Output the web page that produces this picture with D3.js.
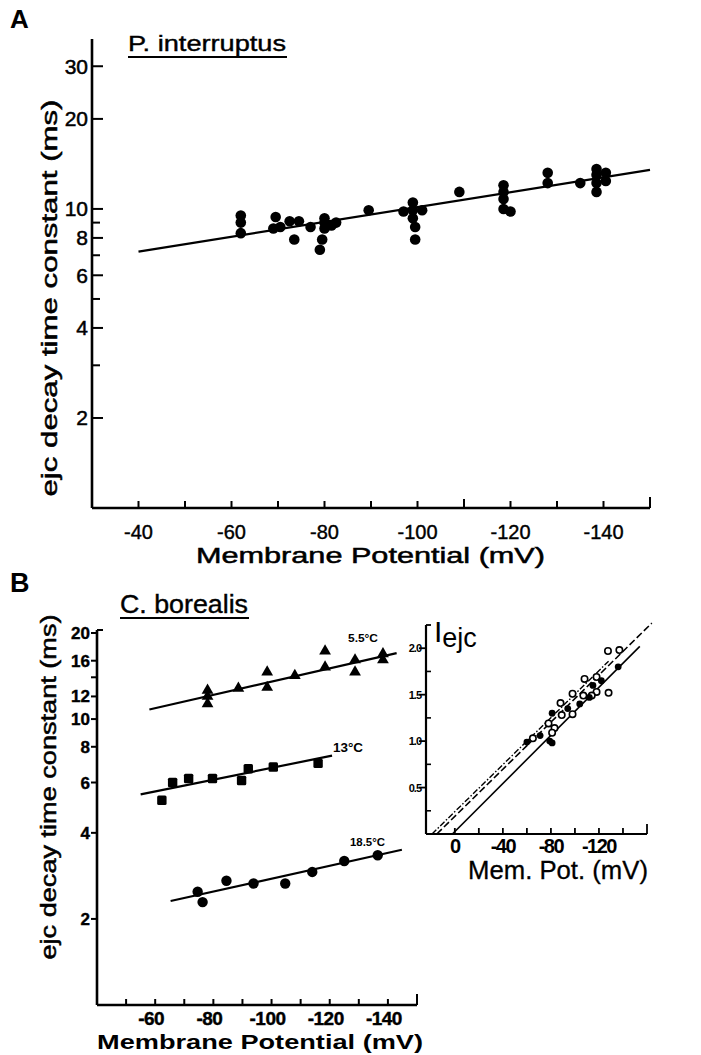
<!DOCTYPE html>
<html><head><meta charset="utf-8">
<script src="https://cdn.jsdelivr.net/npm/d3@7"></script>
<style>
html,body{margin:0;padding:0;background:#fff;}
svg{display:block;}
text{font-family:"Liberation Sans",Arial,Helvetica,sans-serif;fill:#000;}
</style></head>
<body>
<svg id="c" width="701" height="1055"></svg>
<script>
// ---------- DATA ----------
// Panel A : P. interruptus
const aVoltage = [-62,-62,-62,-69,-69.5,-70.5,-72.5,-74.5,-73.5,-77,-80,-80,-80,-79.5,-79,-81.5,-82.5,-89.5,
  -97,-99,-99,-101,-99,-99.5,-99.5,-109,-118.5,-118.5,-118.5,-118.5,-120,-128,-128,-135,-138.5,-138.5,-138.5,-138.5,-140.5,-140.5];
const aTau = [9.5,9.0,8.3,8.6,9.4,8.7,9.1,9.1,7.9,8.7,9.3,9.0,8.6,7.9,7.3,8.8,9.0,9.9,
  9.8,10.5,9.9,9.9,9.3,8.7,7.9,11.4,12.0,11.4,10.8,10.0,9.8,13.2,12.2,12.2,13.6,13.0,12.2,11.4,13.2,12.4];
const aFitVoltage = [-40,-150];
const aFitTau = [7.2,13.5];
const aYTickLabels = [2,4,6,8,10,20,30];
const aYMinorTicks = [3,5,7,9];
const aXTicks = [-40,-50,-60,-70,-80,-90,-100,-110,-120,-130,-140,-150];
const aXTickLabels = [-40,-60,-80,-100,-120,-140];

// Panel B : C. borealis
const b55Voltage = [-78,-78,-78,-88.6,-98.5,-98.5,-108,-118.4,-118.4,-128.7,-128.7,-138.3,-138.3];
const b55Tau = [12.6,12.0,11.3,12.8,14.6,12.9,14.2,17.3,15.2,16.1,14.6,16.9,16.1];
const b55FitVoltage = [-58,-143];
const b55FitTau = [10.8,17.0];
const b13Voltage = [-62.3,-66,-71.5,-79.7,-89.7,-92,-100.6,-116];
const b13Tau = [5.2,6.0,6.2,6.2,6.1,6.7,6.8,7.0];
const b13FitVoltage = [-55,-120.8];
const b13FitTau = [5.45,7.45];
const b185Voltage = [-74.6,-76.3,-84.5,-93.8,-104.7,-114,-125,-136.5];
const b185Tau = [2.49,2.29,2.72,2.66,2.66,2.92,3.19,3.34];
const b185FitVoltage = [-65.3,-144.8];
const b185FitTau = [2.31,3.49];
const bTempLabels = ["5.5°C","13°C","18.5°C"];
const bYTickLabels = [2,4,6,8,10,12,16,20];
const bYMinorTicks = [14];
const bXTicks = [-50,-60,-70,-80,-90,-100,-110,-120,-130,-140,-150];
const bXTickLabels = [-60,-80,-100,-120,-140];

// Inset : I_ejc vs membrane potential
const insOpenVoltage = [-127.5,-137,-108,-118,-98,-107,-118,-128,-88,-89,-98,-78,-83,-65,-81,-114];
const insOpenI = [1.97,1.98,1.67,1.69,1.51,1.49,1.53,1.52,1.41,1.28,1.29,1.19,1.14,1.03,1.09,1.49];
const insFilledVoltage = [-81,-60,-71,-79,-81,-104,-94,-112,-122,-115,-136];
const insFilledI = [1.30,0.99,1.06,1.00,0.98,1.40,1.35,1.47,1.65,1.60,1.80];
const insSolidVoltage = [2,-154];
const insSolidI = [0,2.02];
const insDashVoltage = [15,-164];
const insDashI = [0,2.27];
const insDashDotVoltage = [19,-128];
const insDashDotI = [0,1.86];
const insYTickLabels = [0.5,1.0,1.5,2.0];
const insYMinorTicks = [0.25,0.75,1.25,1.75];
const insXTicks = [0,-20,-40,-60,-80,-100,-120,-140,-160];
const insXTickLabels = [0,-40,-80,-120];

// ---------- DRAW ----------
const svg = d3.select("#c");
svg.append("rect").attr("width",701).attr("height",1055).attr("fill","#fff");
const zip = (a,b)=>a.map((v,i)=>[v,b[i]]);

function txt(g,x,y,s,o={}){
  const t=g.append("text").attr("x",x).attr("y",y).text(s)
    .attr("font-size",o.size||20).attr("font-weight",o.weight||"normal")
    .attr("text-anchor",o.anchor||"start");
  if(o.len) t.attr("textLength",o.len).attr("lengthAdjust","spacingAndGlyphs");
  if(o.stroke) t.attr("stroke","#000").attr("stroke-width",o.stroke);
  return t;
}

// ===== Panel A =====
const xA = d3.scaleLinear().domain([-30,-150]).range([92,650]);
const yA = d3.scaleLog().domain([1,37]).range([508,39]);
const gA = svg.append("g");
gA.append("line").attr("x1",92).attr("x2",92).attr("y1",yA(37)).attr("y2",yA(1)).attr("stroke","#000").attr("stroke-width",2.6);
gA.append("line").attr("x1",xA(-30)).attr("x2",xA(-150)).attr("y1",yA(1)).attr("y2",yA(1)).attr("stroke","#000").attr("stroke-width",2.6);
gA.selectAll(".yt").data(aYTickLabels.concat(aYMinorTicks)).join("line")
  .attr("x1",92).attr("x2",d=>aYTickLabels.includes(d)?103:100).attr("y1",d=>yA(d)).attr("y2",d=>yA(d))
  .attr("stroke","#000").attr("stroke-width",2);
gA.selectAll(".ytl").data(aYTickLabels).join("text")
  .attr("x",88).attr("y",d=>yA(d)+7.5).attr("text-anchor","end").attr("font-size",21)
  .attr("stroke","#000").attr("stroke-width",0.5).text(d=>d);
gA.selectAll(".xt").data(aXTicks).join("line")
  .attr("x1",d=>xA(d)).attr("x2",d=>xA(d)).attr("y1",yA(1)).attr("y2",d=>yA(1)-(d===-150?11:(d===-110?9:7)))
  .attr("stroke","#000").attr("stroke-width",2);
gA.selectAll(".xtl").data(aXTickLabels).join("text")
  .attr("x",d=>xA(d)).attr("y",539).attr("text-anchor","middle").attr("font-size",20)
  .attr("stroke","#000").attr("stroke-width",0.4).text(d=>"-"+Math.abs(d));
const lineA = d3.line().x(d=>xA(d[0])).y(d=>yA(d[1]));
gA.append("path").attr("d",lineA(zip(aFitVoltage,aFitTau))).attr("fill","none").attr("stroke","#000").attr("stroke-width",2.2);
gA.selectAll(".pt").data(zip(aVoltage,aTau)).join("circle")
  .attr("cx",d=>xA(d[0])).attr("cy",d=>yA(d[1])).attr("r",5.3).attr("fill","#000");
txt(gA,10,28,"A",{size:26,weight:"bold"});
txt(gA,128,51,"P. interruptus",{size:22,len:158,stroke:0.4});
gA.append("line").attr("x1",128).attr("x2",287).attr("y1",57).attr("y2",57).attr("stroke","#000").attr("stroke-width",2);
txt(gA,196,563,"Membrane Potential (mV)",{size:22,len:349,stroke:0.5});
gA.append("text").attr("transform","translate(57,298) rotate(-90)").attr("text-anchor","middle")
  .attr("font-size",22).attr("textLength",397).attr("lengthAdjust","spacingAndGlyphs")
  .attr("stroke","#000").attr("stroke-width",0.5).text("ejc decay time constant (ms)");

// ===== Panel B =====
const xB = d3.scaleLinear().domain([-40,-150]).range([97,417]);
const yB = d3.scaleLog().domain([1,20]).range([1005,633]);
const gB = svg.append("g");
gB.append("line").attr("x1",97).attr("x2",97).attr("y1",630).attr("y2",1005).attr("stroke","#000").attr("stroke-width",2.6);
gB.append("line").attr("x1",97).attr("x2",103).attr("y1",630).attr("y2",630).attr("stroke","#000").attr("stroke-width",2);
gB.append("line").attr("x1",xB(-40)).attr("x2",xB(-150)).attr("y1",1005).attr("y2",1005).attr("stroke","#000").attr("stroke-width",2.6);
gB.selectAll(".yt").data(bYTickLabels.concat(bYMinorTicks)).join("line")
  .attr("x1",91).attr("x2",97).attr("y1",d=>yB(d)).attr("y2",d=>yB(d)).attr("stroke","#000").attr("stroke-width",2);
gB.selectAll(".ytl").data(bYTickLabels).join("text")
  .attr("x",90).attr("y",d=>yB(d)+6).attr("text-anchor","end").attr("font-size",17).attr("font-weight","bold")
  .attr("stroke","#000").attr("stroke-width",0.4).text(d=>d);
gB.selectAll(".xt").data(bXTicks).join("line")
  .attr("x1",d=>xB(d)).attr("x2",d=>xB(d)).attr("y1",1005).attr("y2",d=>d===-150?994:999)
  .attr("stroke","#000").attr("stroke-width",2);
gB.selectAll(".xtl").data(bXTickLabels).join("text")
  .attr("x",d=>xB(d)-4).attr("y",1025).attr("text-anchor","middle").attr("font-size",19).attr("font-weight","bold")
  .attr("stroke","#000").attr("stroke-width",0.4).attr("letter-spacing",-0.5).text(d=>"-"+Math.abs(d));
const lineB = d3.line().x(d=>xB(d[0])).y(d=>yB(d[1]));
[[b55FitVoltage,b55FitTau],[b13FitVoltage,b13FitTau],[b185FitVoltage,b185FitTau]].forEach(f=>{
  gB.append("path").attr("d",lineB(zip(f[0],f[1]))).attr("fill","none").attr("stroke","#000").attr("stroke-width",2.2);
});
const tri = d3.symbol().type(d3.symbolTriangle).size(60);
gB.selectAll(".tri").data(zip(b55Voltage,b55Tau)).join("path")
  .attr("d",tri).attr("transform",d=>`translate(${xB(d[0])},${yB(d[1])})`).attr("fill","#000");
gB.selectAll(".sq").data(zip(b13Voltage,b13Tau)).join("rect")
  .attr("x",d=>xB(d[0])-4.7).attr("y",d=>yB(d[1])-4.7).attr("width",9.4).attr("height",9.4).attr("rx",1.5).attr("fill","#000");
gB.selectAll(".ci").data(zip(b185Voltage,b185Tau)).join("circle")
  .attr("cx",d=>xB(d[0])).attr("cy",d=>yB(d[1])).attr("r",5.2).attr("fill","#000");
txt(gB,348,642,bTempLabels[0],{size:11,weight:"bold",len:30});
txt(gB,333,752,bTempLabels[1],{size:13,weight:"bold",len:30});
txt(gB,350,846,bTempLabels[2],{size:11,weight:"bold",len:35});
txt(gB,10,592,"B",{size:27,weight:"bold"});
txt(gB,120,613,"C. borealis",{size:26,len:128,stroke:0.4});
gB.append("line").attr("x1",120).attr("x2",249).attr("y1",618).attr("y2",618).attr("stroke","#000").attr("stroke-width",2);
txt(gB,97,1049,"Membrane Potential (mV)",{size:21,weight:"bold",len:326});
gB.append("text").attr("transform","translate(56,787) rotate(-90)").attr("text-anchor","middle")
  .attr("font-size",22).attr("textLength",345).attr("lengthAdjust","spacingAndGlyphs")
  .attr("stroke","#000").attr("stroke-width",0.5).text("ejc decay  time constant (ms)");

// ===== Inset =====
const xI = d3.scaleLinear().domain([24,-160]).range([426,647]);
const yI = d3.scaleLinear().domain([0,2.25]).range([834,625]);
const gI = svg.append("g");
gI.append("line").attr("x1",426).attr("x2",426).attr("y1",yI(2.25)).attr("y2",yI(0)).attr("stroke","#000").attr("stroke-width",2.2);
gI.append("line").attr("x1",426).attr("x2",431).attr("y1",yI(2.25)).attr("y2",yI(2.25)).attr("stroke","#000").attr("stroke-width",1.8);
gI.append("line").attr("x1",xI(24)).attr("x2",xI(-160)).attr("y1",yI(0)).attr("y2",yI(0)).attr("stroke","#000").attr("stroke-width",2.2);
gI.selectAll(".yt").data(insYTickLabels).join("line")
  .attr("x1",419).attr("x2",426).attr("y1",d=>yI(d)).attr("y2",d=>yI(d)).attr("stroke","#000").attr("stroke-width",1.8);
gI.selectAll(".ym").data(insYMinorTicks).join("line")
  .attr("x1",426).attr("x2",431).attr("y1",d=>yI(d)).attr("y2",d=>yI(d)).attr("stroke","#000").attr("stroke-width",1.6);
gI.selectAll(".ytl").data(insYTickLabels).join("text")
  .attr("x",421).attr("y",d=>yI(d)+4).attr("text-anchor","end").attr("font-size",11).attr("font-weight","bold")
  .attr("letter-spacing",-1).text(d=>d.toFixed(1));
gI.selectAll(".xt").data(insXTicks).join("line")
  .attr("x1",d=>xI(d)).attr("x2",d=>xI(d)).attr("y1",yI(0)).attr("y2",d=>d===-160?yI(0)-10:yI(0)-6)
  .attr("stroke","#000").attr("stroke-width",1.8);
gI.selectAll(".xtl").data(insXTickLabels).join("text")
  .attr("x",d=>xI(d)).attr("y",853).attr("text-anchor","middle").attr("font-size",20).attr("font-weight","bold")
  .attr("letter-spacing",-1.5).text(d=>d===0?"0":"-"+Math.abs(d));
const lineI = d3.line().x(d=>xI(d[0])).y(d=>yI(d[1]));
gI.append("path").attr("d",lineI(zip(insSolidVoltage,insSolidI))).attr("fill","none").attr("stroke","#000").attr("stroke-width",1.6);
gI.append("path").attr("d",lineI(zip(insDashVoltage,insDashI))).attr("fill","none").attr("stroke","#000").attr("stroke-width",1.6).attr("stroke-dasharray","7,3");
gI.append("path").attr("d",lineI(zip(insDashDotVoltage,insDashDotI))).attr("fill","none").attr("stroke","#000").attr("stroke-width",1.4).attr("stroke-dasharray","6,2,1.5,2");
gI.selectAll(".op").data(zip(insOpenVoltage,insOpenI)).join("circle")
  .attr("cx",d=>xI(d[0])).attr("cy",d=>yI(d[1])).attr("r",3.2).attr("fill","#fff").attr("stroke","#000").attr("stroke-width",1.6);
gI.selectAll(".fp").data(zip(insFilledVoltage,insFilledI)).join("circle")
  .attr("cx",d=>xI(d[0])).attr("cy",d=>yI(d[1])).attr("r",3.4).attr("fill","#000");
const iLab = gI.append("text").attr("x",434).attr("y",642);
iLab.append("tspan").attr("font-size",30).text("I");
iLab.append("tspan").attr("font-size",27).attr("dx",0).attr("dy",5).text("ejc");
txt(gI,468,879,"Mem. Pot. (mV)",{size:25,len:180,stroke:0.3});
</script>
</body></html>
